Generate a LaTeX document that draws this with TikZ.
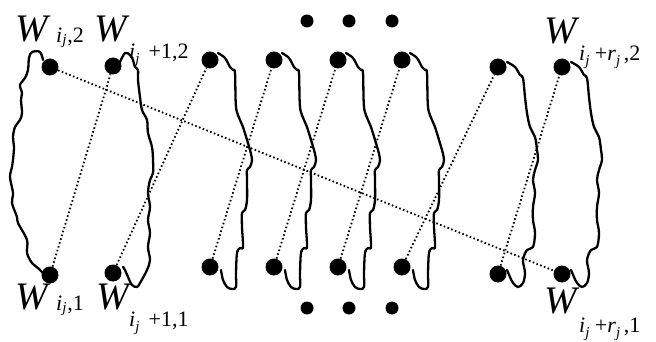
\documentclass[tikz,border=0pt]{standalone}
\usepackage{fontspec}
\setmainfont{Liberation Serif}
\newcommand{\Wsz}{\fontsize{39}{39}\selectfont}
\newcommand{\Ssz}{\fontsize{22}{22}\selectfont}
\newcommand{\SSsz}{\fontsize{15}{15}\selectfont}
\newcommand{\jsub}[1]{\raisebox{#1}{\SSsz\textit{j}}}
\begin{document}
\begin{tikzpicture}[x=1pt,y=-1pt,
  dot/.style={circle,fill=black,inner sep=0pt,minimum size=17pt},
  edot/.style={circle,fill=black,inner sep=0pt,minimum size=13pt},
  blob/.style={line width=2.3pt,line join=round,line cap=round},
  link/.style={line width=1.8pt,dash pattern=on 1.6pt off 2.4pt},
  wlab/.style={anchor=base west,inner sep=0pt,font=\Wsz\itshape},
  slab/.style={anchor=base west,inner sep=0pt,font=\Ssz}]
\useasboundingbox (0,0) rectangle (656,342);

% wavy outlines
\draw[blob] plot[smooth,tension=0.55] coordinates {(43,60) (40,52) (32,52) (29,58) (28,70) (25,78) (20,85) (22,93) (21,100) (22,113) (20,120) (15,127) (13,137) (14,147) (13,160) (12,167) (10,177) (13,193) (12,203) (17,217) (18,223) (27,240) (27,253) (32,263) (38,268) (43,273)};
\draw[blob] plot[smooth,tension=0.55] coordinates {(120,62) (125,53) (130,55) (133,60) (135,67) (138,70) (138,80) (140,97) (142,110) (147,120) (148,133) (152,147) (153,160) (153,173) (150,180) (148,193) (150,207) (148,220) (150,233) (148,247) (150,260) (147,270) (140,283) (137,287) (132,285) (128,277) (125,270) (123,267)};
\foreach \cx in {210,274,338,402}
  \draw[blob,shift={(\cx,60)}] plot[smooth,tension=0.55] coordinates {(8,-7) (15,-2) (20,7) (23,10) (25,13) (26,47) (30,60) (33,67) (37,80) (40,90) (42,100) (40,107) (37,110) (37,120) (37,140) (35,150) (32,153) (32,167) (33,187) (30,188) (27,193) (26,213) (26,227) (22,229) (17,227) (13,220) (11,210)};
\foreach \cx in {498,562}
  \draw[blob,shift={(\cx,67)}] plot[smooth,tension=0.55] coordinates {(9,-5) (17,0) (22,8) (25,11) (27,30) (29,46) (32,60) (37,70) (39,83) (40,93) (37,103) (35,113) (37,126) (35,140) (35,153) (37,166) (35,180) (29,183) (25,193) (27,206) (25,216) (20,220) (15,216) (12,210) (9,203)};

% vertices
\node[dot] (t1) at (50,67) {};
\node[dot] (t2) at (113,66) {};
\node[dot] (t3) at (210,60) {};
\node[dot] (t4) at (274,60) {};
\node[dot] (t5) at (338,60) {};
\node[dot] (t6) at (402,60) {};
\node[dot] (t7) at (498,67) {};
\node[dot] (t8) at (562,67) {};
\node[dot] (b1) at (50,275) {};
\node[dot] (b2) at (113,273) {};
\node[dot] (b3) at (210,267) {};
\node[dot] (b4) at (274,267) {};
\node[dot] (b5) at (338,267) {};
\node[dot] (b6) at (402,267) {};
\node[dot] (b7) at (498,274) {};
\node[dot] (b8) at (562,274) {};

% ellipsis dots
\node[edot] (e1) at (307,21) {};
\node[edot] (e2) at (349,21) {};
\node[edot] (e3) at (392,21) {};
\node[edot] (e4) at (307,308) {};
\node[edot] (e5) at (349,308) {};
\node[edot] (e6) at (392,308) {};

% dotted links
\draw[link] (t1) -- (b8);
\draw[link] (b1) -- (t2);
\draw[link] (b2) -- (t3);
\draw[link] (b3) -- (t4);
\draw[link] (b4) -- (t5);
\draw[link] (b5) -- (t6);
\draw[link] (b6) -- (t7);
\draw[link] (b7) -- (t8);

% labels
\node[wlab] (w1) at (15,42) {W};
\node[slab] (s1) at (56,43) {\textit{i}\jsub{-2pt}\kern1pt,2};
\node[wlab] (w2) at (94,42) {W};
\node[slab] (s2) at (129,59) {\textit{i}\jsub{-5pt}\ \,+1,2};
\node[wlab] (w3) at (544,44) {W};
\node[slab] (s3) at (579,61) {\textit{i}\jsub{-5pt}\ +\textit{r}\jsub{-5pt}\,,2};
\node[wlab] (w4) at (15,309) {W};
\node[slab] (s4) at (56,310) {\textit{i}\jsub{-2pt}\kern1pt,1};
\node[wlab] (w5) at (96,309) {W};
\node[slab] (s5) at (129,326) {\textit{i}\jsub{-5pt}\ \,+1,1};
\node[wlab] (w6) at (544,313) {W};
\node[slab] (s6) at (579,332) {\textit{i}\jsub{-5pt}\ +\textit{r}\jsub{-5pt}\,,1};
\end{tikzpicture}
\end{document}
